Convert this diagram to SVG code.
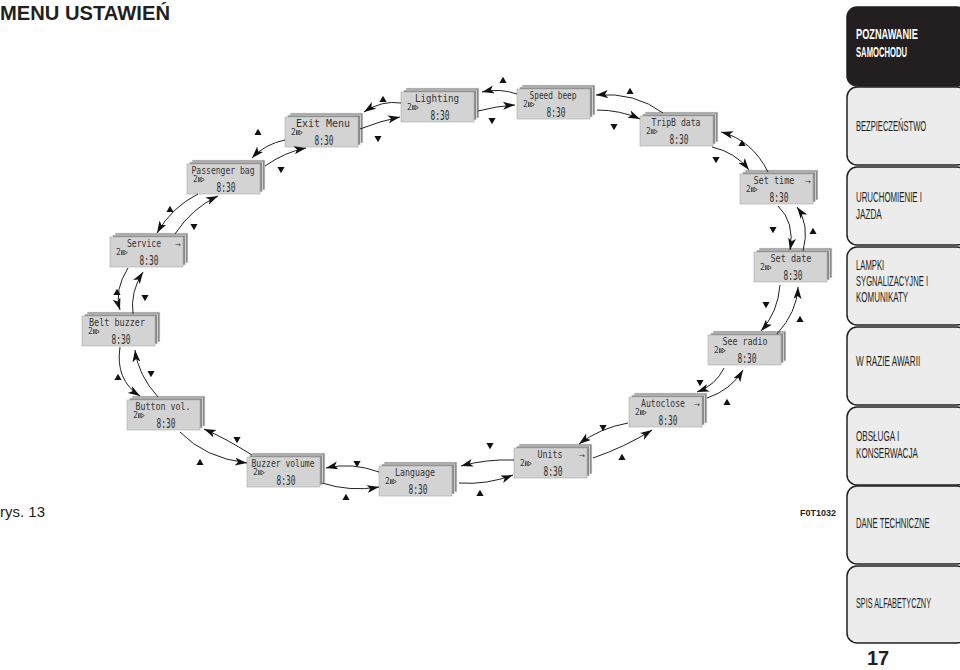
<svg xmlns="http://www.w3.org/2000/svg" xmlns:xlink="http://www.w3.org/1999/xlink" width="960" height="670" viewBox="0 0 960 670">
<style>
.f{fill:#d3d3d3;stroke:#a8a8a8;stroke-width:.6}
.b{fill:#8a8a8a;stroke:#eeeeee;stroke-width:.7}
.t{font-family:"DejaVu Sans Mono",monospace;font-size:10px;fill:#333;text-anchor:middle}
.s{font-family:"DejaVu Sans Mono",monospace;font-size:8px;fill:#333}
.c{font-family:"DejaVu Sans Mono",monospace;font-size:14px;fill:#333;text-anchor:middle}
.ar{font-family:"DejaVu Sans",sans-serif;font-size:7px;fill:#333}
.ic{fill:none;stroke:#333;stroke-width:.8}
.ln{fill:none;stroke:#222;stroke-width:1;marker-end:url(#ah)}
.tri{fill:#111}
.tab{fill:#ececec;stroke:#231f20;stroke-width:1.5}
.tt{font-family:"Liberation Sans",Arial,sans-serif;font-size:14px;fill:#231f20}
.tw{font-family:"Liberation Sans",Arial,sans-serif;font-size:14px;font-weight:bold;fill:#fff}
</style>
<defs>
<marker id="ah" markerUnits="userSpaceOnUse" markerWidth="13" markerHeight="9" refX="12" refY="4" orient="auto">
<path d="M0,0 L12,4 L0,8 L3,4 Z" fill="#111"/>
</marker>
<g id="stack">
<rect x="5" y="-4" width="73" height="30" class="b"/>
<rect x="2.5" y="-2" width="73" height="30" class="b"/>
<rect x="0" y="0" width="73" height="30" class="f"/>
<path class="ic" d="M11.5,13.2v4.8 M12.9,13.2v4.8 M14,13.3 L17.3,15.6 L14,17.9 Z"/>
</g>
<path id="up" class="tri" d="M0,-3.2 L3.6,3 L-3.6,3 Z"/>
<path id="dn" class="tri" d="M0,3.2 L3.6,-3 L-3.6,-3 Z"/>
</defs>

<text x="0" y="20" font-family="Liberation Sans,Arial,sans-serif" font-size="21" font-weight="bold" fill="#231f20" textLength="170" lengthAdjust="spacingAndGlyphs">MENU USTAWIEŃ</text>
<text x="0" y="517" font-family="Liberation Sans,Arial,sans-serif" font-size="15" fill="#231f20">rys. 13</text>
<text x="800" y="516" font-family="Liberation Sans,Arial,sans-serif" font-size="9" font-weight="bold" fill="#231f20">F0T1032</text>

<g id="sidebar">
<g id="tab1"><rect x="847" y="7" width="120" height="79" rx="10" fill="#231f20" stroke="#231f20" stroke-width="1.5"/>
<text class="tw" transform="translate(856,39) scale(0.6,1)" textLength="103" lengthAdjust="spacingAndGlyphs">POZNAWANIE</text>
<text class="tw" transform="translate(856,57) scale(0.6,1)" textLength="85" lengthAdjust="spacingAndGlyphs">SAMOCHODU</text></g>
<g id="tab2"><rect class="tab" x="847" y="87" width="120" height="78" rx="10"/>
<text class="tt" transform="translate(856,131) scale(0.6,1)" textLength="117" lengthAdjust="spacingAndGlyphs">BEZPIECZEŃSTWO</text></g>
<g id="tab3"><rect class="tab" x="847" y="167" width="120" height="78" rx="10"/>
<text class="tt" transform="translate(856,202) scale(0.6,1)" textLength="110" lengthAdjust="spacingAndGlyphs">URUCHOMIENIE I</text>
<text class="tt" transform="translate(856,219) scale(0.6,1)" textLength="43" lengthAdjust="spacingAndGlyphs">JAZDA</text></g>
<g id="tab4"><rect class="tab" x="847" y="247" width="120" height="78" rx="10"/>
<text class="tt" transform="translate(856,270) scale(0.6,1)" textLength="47" lengthAdjust="spacingAndGlyphs">LAMPKI</text>
<text class="tt" transform="translate(856,286) scale(0.6,1)" textLength="120" lengthAdjust="spacingAndGlyphs">SYGNALIZACYJNE I</text>
<text class="tt" transform="translate(856,302) scale(0.6,1)" textLength="87" lengthAdjust="spacingAndGlyphs">KOMUNIKATY</text></g>
<g id="tab5"><rect class="tab" x="847" y="327" width="120" height="78" rx="10"/>
<text class="tt" transform="translate(856,366) scale(0.6,1)" textLength="107" lengthAdjust="spacingAndGlyphs">W RAZIE AWARII</text></g>
<g id="tab6"><rect class="tab" x="847" y="407" width="120" height="78" rx="10"/>
<text class="tt" transform="translate(856,441) scale(0.6,1)" textLength="72" lengthAdjust="spacingAndGlyphs">OBSŁUGA I</text>
<text class="tt" transform="translate(856,458) scale(0.6,1)" textLength="103" lengthAdjust="spacingAndGlyphs">KONSERWACJA</text></g>
<g id="tab7"><rect class="tab" x="847" y="486" width="120" height="78" rx="10"/>
<text class="tt" transform="translate(856,528) scale(0.6,1)" textLength="123" lengthAdjust="spacingAndGlyphs">DANE TECHNICZNE</text></g>
<g id="tab8"><rect class="tab" x="847" y="566" width="120" height="77" rx="10"/>
<text class="tt" transform="translate(856,608) scale(0.6,1)" textLength="125" lengthAdjust="spacingAndGlyphs">SPIS ALFABETYCZNY</text></g>
<text x="878" y="665" text-anchor="middle" font-family="Liberation Sans,Arial,sans-serif" font-size="20" font-weight="bold" fill="#231f20">17</text>
</g>

<g id="n-exit" transform="translate(285,117)"><use href="#stack"/>
<text class="t" x="38" y="10" textLength="54" lengthAdjust="spacingAndGlyphs">Exit Menu</text>
<text class="s" x="6" y="18">2</text><text class="c" x="39" y="28" textLength="19" lengthAdjust="spacingAndGlyphs">8:30</text></g>

<g id="n-lighting" transform="translate(401,92)"><use href="#stack"/>
<text class="t" x="36" y="10" textLength="44" lengthAdjust="spacingAndGlyphs">Lighting</text>
<text class="s" x="6" y="18">2</text><text class="c" x="39" y="28" textLength="19" lengthAdjust="spacingAndGlyphs">8:30</text></g>

<g id="n-speed" transform="translate(517,89)"><use href="#stack"/>
<text class="t" x="36" y="10" textLength="47" lengthAdjust="spacingAndGlyphs">Speed beep</text>
<text class="s" x="6" y="18">2</text><text class="c" x="39" y="28" textLength="19" lengthAdjust="spacingAndGlyphs">8:30</text></g>

<g id="n-tripb" transform="translate(640,116)"><use href="#stack"/>
<text class="t" x="36" y="10" textLength="49" lengthAdjust="spacingAndGlyphs">TripB data</text>
<text class="s" x="6" y="18">2</text><text class="c" x="39" y="28" textLength="19" lengthAdjust="spacingAndGlyphs">8:30</text></g>

<g id="n-settime" transform="translate(740,174)"><use href="#stack"/>
<text class="t" x="34" y="10" textLength="41" lengthAdjust="spacingAndGlyphs">Set time</text>
<text class="ar" x="65" y="10">→</text>
<text class="s" x="6" y="18">2</text><text class="c" x="39" y="28" textLength="19" lengthAdjust="spacingAndGlyphs">8:30</text></g>

<g id="n-setdate" transform="translate(754,252)"><use href="#stack"/>
<text class="t" x="37" y="10" textLength="41" lengthAdjust="spacingAndGlyphs">Set date</text>
<text class="s" x="6" y="18">2</text><text class="c" x="39" y="28" textLength="19" lengthAdjust="spacingAndGlyphs">8:30</text></g>

<g id="n-radio" transform="translate(708,335)"><use href="#stack"/>
<text class="t" x="37" y="10" textLength="45" lengthAdjust="spacingAndGlyphs">See radio</text>
<text class="s" x="6" y="18">2</text><text class="c" x="39" y="28" textLength="19" lengthAdjust="spacingAndGlyphs">8:30</text></g>

<g id="n-autoclose" transform="translate(629,397)"><use href="#stack"/>
<text class="t" x="34" y="10" textLength="44" lengthAdjust="spacingAndGlyphs">Autoclose</text>
<text class="ar" x="65" y="10">→</text>
<text class="s" x="6" y="18">2</text><text class="c" x="39" y="28" textLength="19" lengthAdjust="spacingAndGlyphs">8:30</text></g>

<g id="n-units" transform="translate(514,448)"><use href="#stack"/>
<text class="t" x="36" y="10" textLength="25" lengthAdjust="spacingAndGlyphs">Units</text>
<text class="ar" x="65" y="10">→</text>
<text class="s" x="6" y="18">2</text><text class="c" x="39" y="28" textLength="19" lengthAdjust="spacingAndGlyphs">8:30</text></g>

<g id="n-language" transform="translate(379,466)"><use href="#stack"/>
<text class="t" x="36" y="10" textLength="40" lengthAdjust="spacingAndGlyphs">Language</text>
<text class="s" x="6" y="18">2</text><text class="c" x="39" y="28" textLength="19" lengthAdjust="spacingAndGlyphs">8:30</text></g>

<g id="n-buzzervol" transform="translate(247,457)"><use href="#stack"/>
<text class="t" x="36" y="10" textLength="63" lengthAdjust="spacingAndGlyphs">Buzzer volume</text>
<text class="s" x="6" y="18">2</text><text class="c" x="39" y="28" textLength="19" lengthAdjust="spacingAndGlyphs">8:30</text></g>

<g id="n-buttonvol" transform="translate(127,400)"><use href="#stack"/>
<text class="t" x="36" y="10" textLength="55" lengthAdjust="spacingAndGlyphs">Button vol.</text>
<text class="s" x="6" y="18">2</text><text class="c" x="39" y="28" textLength="19" lengthAdjust="spacingAndGlyphs">8:30</text></g>

<g id="n-belt" transform="translate(82,316)"><use href="#stack"/>
<text class="t" x="35" y="10" textLength="56" lengthAdjust="spacingAndGlyphs">Belt buzzer</text>
<text class="s" x="6" y="18">2</text><text class="c" x="39" y="28" textLength="19" lengthAdjust="spacingAndGlyphs">8:30</text></g>

<g id="n-service" transform="translate(110,237)"><use href="#stack"/>
<text class="t" x="34" y="10" textLength="34" lengthAdjust="spacingAndGlyphs">Service</text>
<text class="ar" x="65" y="10">→</text>
<text class="s" x="6" y="18">2</text><text class="c" x="39" y="28" textLength="19" lengthAdjust="spacingAndGlyphs">8:30</text></g>

<g id="n-passenger" transform="translate(187,164)"><use href="#stack"/>
<text class="t" x="36" y="10" textLength="63" lengthAdjust="spacingAndGlyphs">Passenger bag</text>
<text class="s" x="6" y="18">2</text><text class="c" x="39" y="28" textLength="19" lengthAdjust="spacingAndGlyphs">8:30</text></g>

<g id="connectors">
<path class="ln" d="M401,103 Q382,100 364,112"/>
<path class="ln" d="M517,94 Q500,88 482,92"/>
<path class="ln" d="M663,113 Q635,92 596,95"/>
<path class="ln" d="M768,172 Q752,140 721,132"/>
<path class="ln" d="M803,251 Q810,225 797,207"/>
<path class="ln" d="M777,334 Q797,312 798,287"/>
<path class="ln" d="M707,398 Q731,390 743,370"/>
<path class="ln" d="M593,458 Q625,447 652,430"/>
<path class="ln" d="M459,483 Q487,485 513,475"/>
<path class="ln" d="M322,483 Q350,492 379,487"/>
<path class="ln" d="M180,432 Q205,458 247,463"/>
<path class="ln" d="M120,347 Q115,380 140,396"/>
<path class="ln" d="M128,268 Q114,290 120,310"/>
<path class="ln" d="M198,194 Q172,207 157,233"/>
<path class="ln" d="M285,140 Q265,144 252,158"/>
<path class="ln" d="M360,129 Q380,121 400,117"/>
<path class="ln" d="M478,111 Q497,106 515,105"/>
<path class="ln" d="M597,110 Q620,110 640,119"/>
<path class="ln" d="M712,147 Q735,152 749,170"/>
<path class="ln" d="M778,206 Q795,222 790,250"/>
<path class="ln" d="M780,285 Q778,312 761,331"/>
<path class="ln" d="M724,368 Q716,385 697,392"/>
<path class="ln" d="M628,423 Q600,428 579,444"/>
<path class="ln" d="M514,460 Q486,459 461,466"/>
<path class="ln" d="M379,472 Q352,462 326,468"/>
<path class="ln" d="M252,455 Q225,438 204,429"/>
<path class="ln" d="M158,397 Q138,375 135,350"/>
<path class="ln" d="M133,314 Q130,292 143,272"/>
<path class="ln" d="M175,234 Q192,208 218,196"/>
<path class="ln" d="M265,166 Q285,152 306,148"/>
<use href="#up" x="383" y="99"/><use href="#dn" x="378" y="139"/>
<use href="#up" x="503" y="80"/><use href="#dn" x="492" y="121"/>
<use href="#up" x="630" y="91"/><use href="#dn" x="614" y="127"/>
<use href="#up" x="742" y="143"/><use href="#dn" x="716" y="160"/>
<use href="#up" x="813" y="231"/><use href="#dn" x="773" y="230"/>
<use href="#up" x="800" y="319"/><use href="#dn" x="766" y="305"/>
<use href="#up" x="727" y="402"/><use href="#dn" x="700" y="383"/>
<use href="#up" x="622" y="457"/><use href="#dn" x="603" y="428"/>
<use href="#up" x="480" y="493"/><use href="#dn" x="490" y="446"/>
<use href="#up" x="346" y="497"/><use href="#dn" x="357" y="464"/>
<use href="#up" x="200" y="462"/><use href="#dn" x="237" y="440"/>
<use href="#up" x="118" y="377"/><use href="#dn" x="151" y="374"/>
<use href="#up" x="117" y="292"/><use href="#dn" x="145" y="298"/>
<use href="#up" x="170" y="209"/><use href="#dn" x="194" y="227"/>
<use href="#up" x="258" y="132"/><use href="#dn" x="281" y="170"/>
</g>
</svg>
